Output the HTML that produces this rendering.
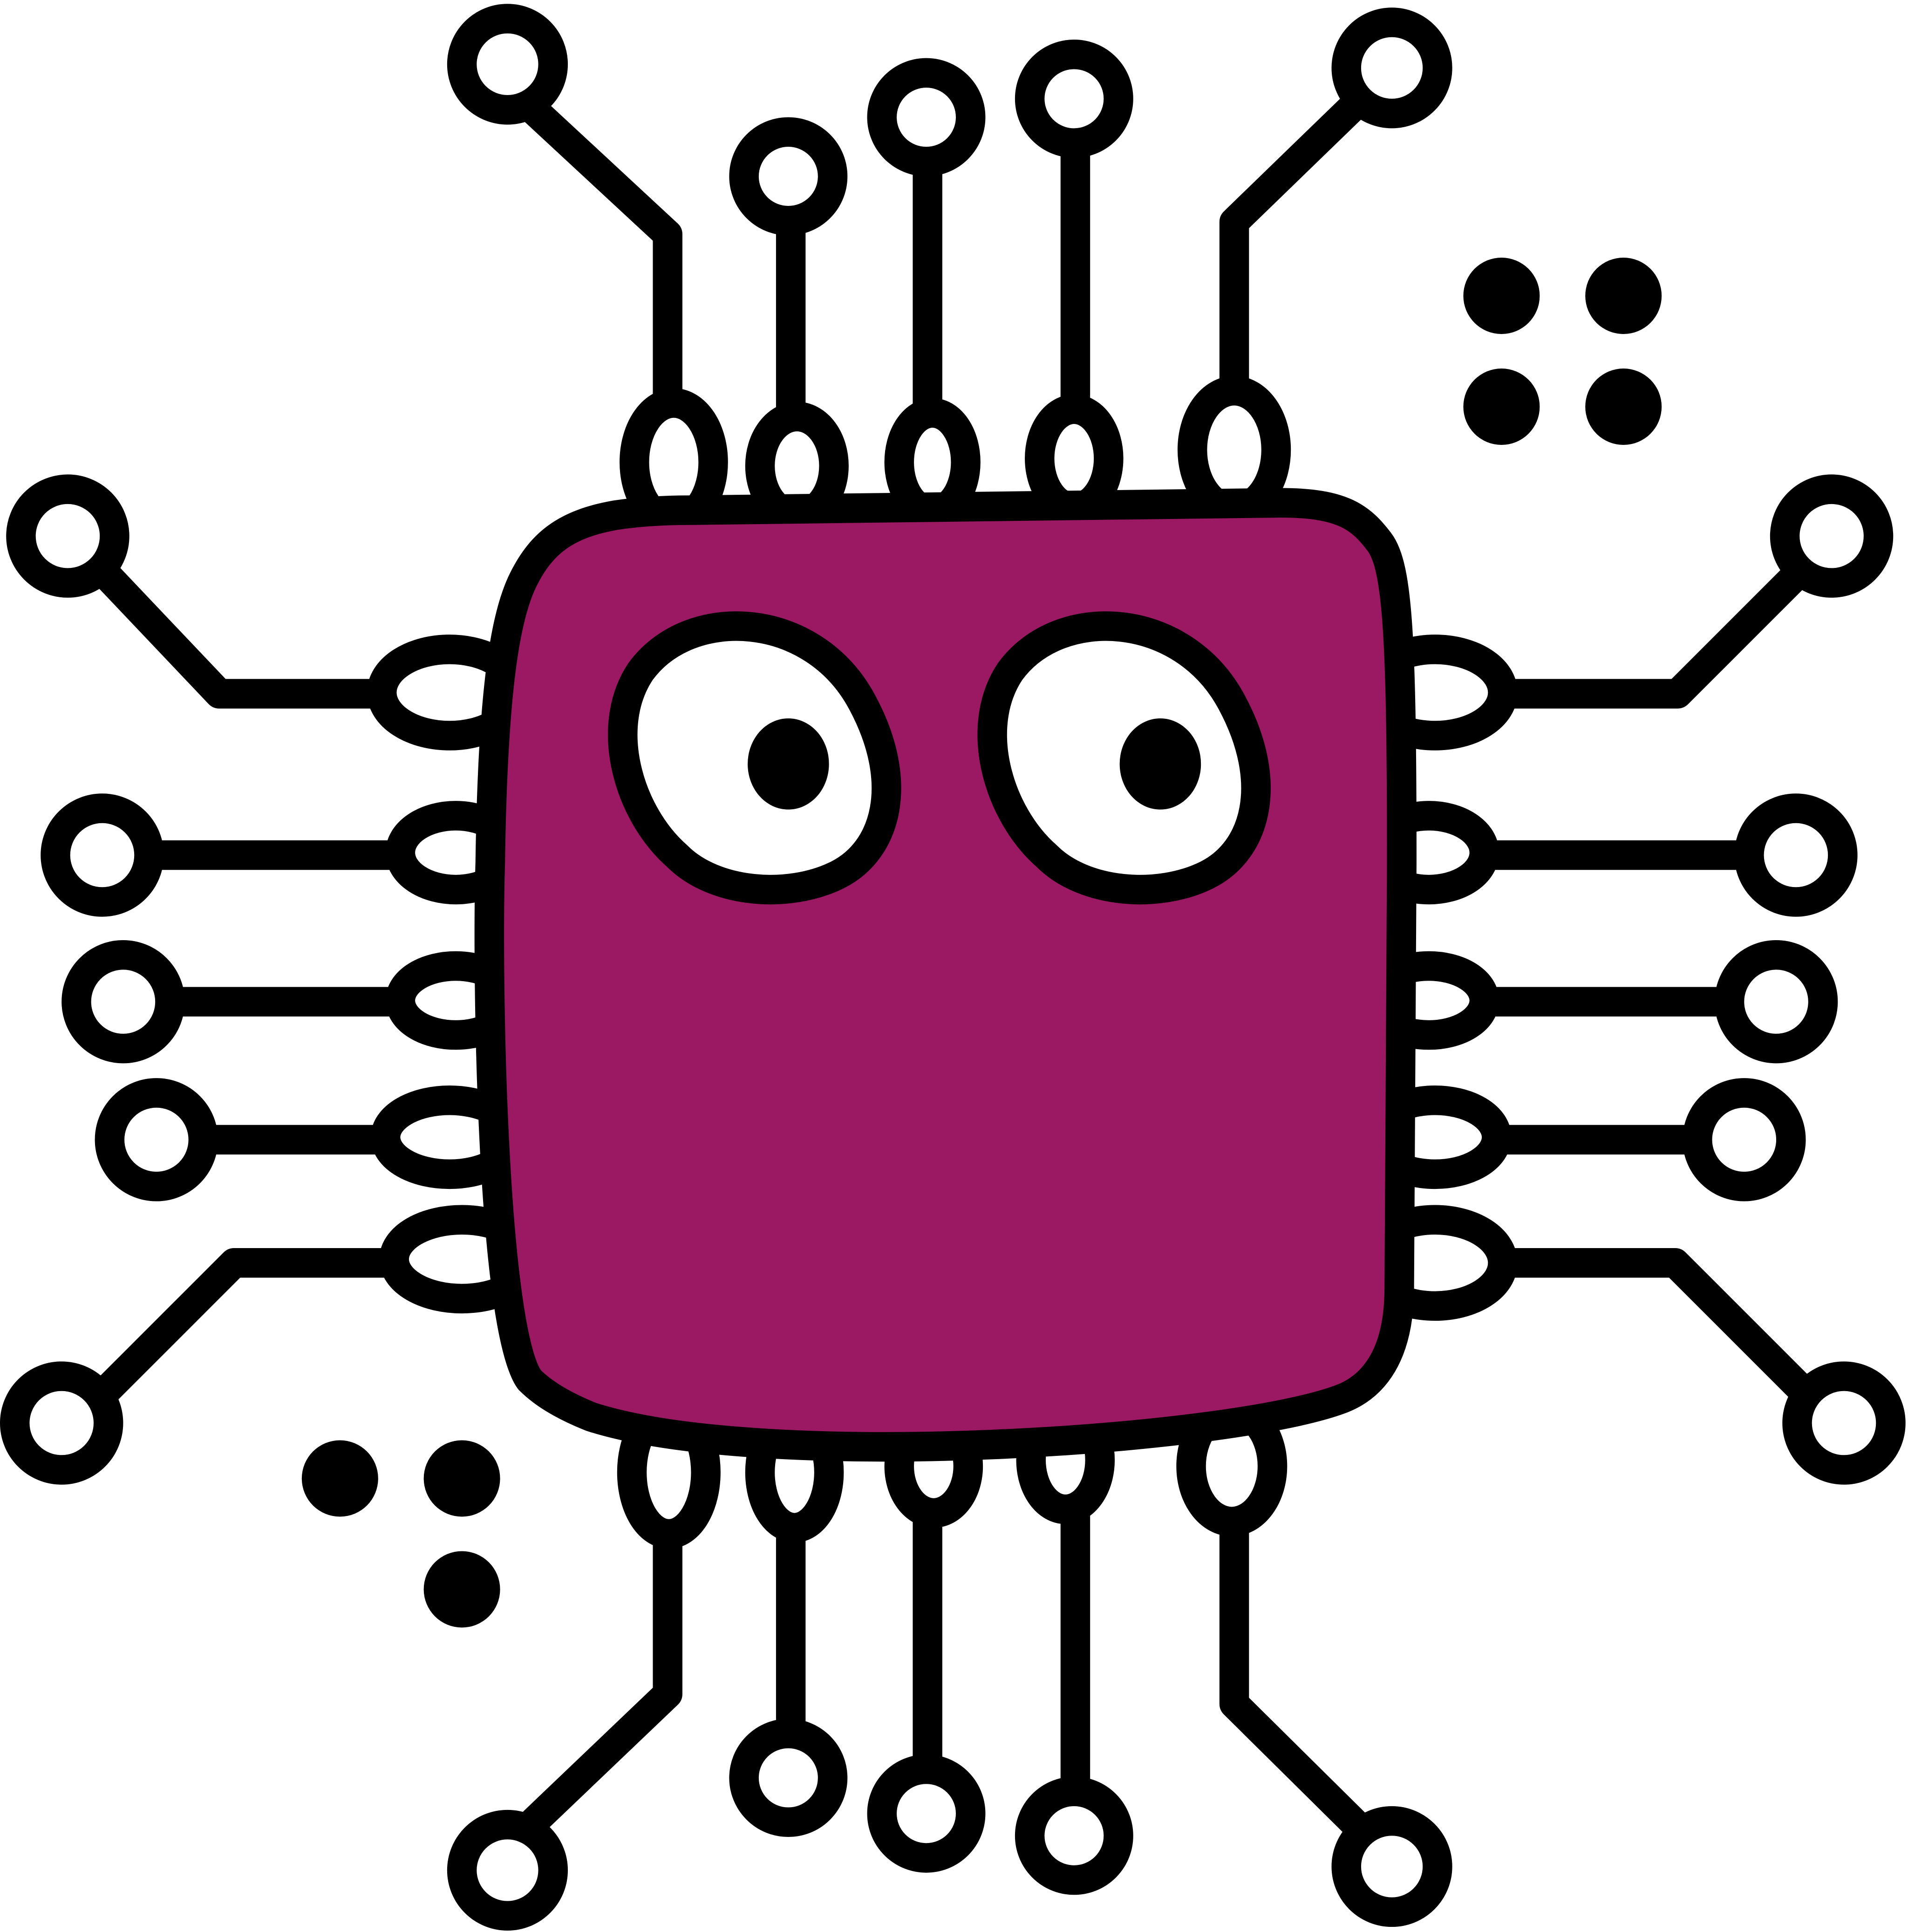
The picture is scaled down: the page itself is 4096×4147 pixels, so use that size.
<!DOCTYPE html>
<html><head><meta charset="utf-8"><style>
html,body{margin:0;padding:0;background:#fff;width:4096px;height:4147px;overflow:hidden}
svg{display:block}
</style></head><body>
<svg width="4096" height="4147" viewBox="0 0 1549 1568" xmlns="http://www.w3.org/2000/svg">
<g fill="none" stroke="#000" stroke-width="24" stroke-linejoin="round" stroke-linecap="round">
  <!-- top pins -->
  <g>
    <polyline points="432,88 542,190 542,320"/>
    <line x1="642" y1="180" x2="642" y2="330"/>
    <line x1="753" y1="135" x2="753" y2="330"/>
    <line x1="873" y1="118" x2="873" y2="325"/>
    <polyline points="1100,85 1002,180 1002,310"/>
    <circle cx="412" cy="52" r="37" fill="#fff"/>
    <circle cx="640" cy="143" r="36" fill="#fff"/>
    <circle cx="752" cy="95" r="36" fill="#fff"/>
    <circle cx="872" cy="80" r="36" fill="#fff"/>
    <circle cx="1130" cy="55" r="37" fill="#fff"/>
    <ellipse cx="547" cy="375" rx="32" ry="48" fill="#fff"/>
    <ellipse cx="647" cy="378" rx="30" ry="40" fill="#fff"/>
    <ellipse cx="757" cy="375" rx="27" ry="40" fill="#fff"/>
    <ellipse cx="872" cy="372" rx="28" ry="40" fill="#fff"/>
    <ellipse cx="1002" cy="365" rx="34" ry="48" fill="#fff"/>
  </g>
  <!-- bottom pins -->
  <g>
    <polyline points="432,1480 542,1375 542,1245"/>
    <line x1="642" y1="1245" x2="642" y2="1405"/>
    <line x1="753" y1="1235" x2="753" y2="1430"/>
    <line x1="873" y1="1230" x2="873" y2="1450"/>
    <polyline points="1100,1480 1002,1383 1002,1235"/>
    <circle cx="412" cy="1518" r="37" fill="#fff"/>
    <circle cx="640" cy="1443" r="36" fill="#fff"/>
    <circle cx="752" cy="1472" r="36" fill="#fff"/>
    <circle cx="872" cy="1490" r="36" fill="#fff"/>
    <circle cx="1130" cy="1515" r="37" fill="#fff"/>
    <ellipse cx="543" cy="1195" rx="30" ry="50" fill="#fff"/>
    <ellipse cx="645" cy="1195" rx="28" ry="45" fill="#fff"/>
    <ellipse cx="758" cy="1190" rx="28" ry="38" fill="#fff"/>
    <ellipse cx="865" cy="1185" rx="28" ry="40" fill="#fff"/>
    <ellipse cx="1000" cy="1190" rx="33" ry="45" fill="#fff"/>
  </g>
  <!-- left pins -->
  <g>
    <polyline points="85,465 178,563 310,563"/>
    <line x1="118" y1="694" x2="325" y2="694"/>
    <line x1="135" y1="813" x2="325" y2="813"/>
    <line x1="162" y1="925" x2="320" y2="925"/>
    <polyline points="85,1130 190,1025 325,1025"/>
    <circle cx="55" cy="435" r="38" fill="#fff"/>
    <circle cx="83" cy="694" r="38" fill="#fff"/>
    <circle cx="100" cy="813" r="38" fill="#fff"/>
    <circle cx="127" cy="925" r="38" fill="#fff"/>
    <circle cx="50" cy="1155" r="38" fill="#fff"/>
    <ellipse cx="365" cy="562" rx="55" ry="35" fill="#fff"/>
    <ellipse cx="370" cy="692" rx="45" ry="30" fill="#fff"/>
    <ellipse cx="370" cy="812" rx="45" ry="28" fill="#fff"/>
    <ellipse cx="365" cy="923" rx="52" ry="30" fill="#fff"/>
    <ellipse cx="375" cy="1022" rx="55" ry="32" fill="#fff"/>
  </g>
  <!-- right pins -->
  <g>
    <polyline points="1460,465 1362,563 1200,563"/>
    <line x1="1190" y1="694" x2="1420" y2="694"/>
    <line x1="1190" y1="813" x2="1403" y2="813"/>
    <line x1="1195" y1="925" x2="1378" y2="925"/>
    <polyline points="1465,1130 1360,1025 1215,1025"/>
    <circle cx="1487" cy="435" r="38" fill="#fff"/>
    <circle cx="1458" cy="694" r="38" fill="#fff"/>
    <circle cx="1442" cy="813" r="38" fill="#fff"/>
    <circle cx="1416" cy="925" r="38" fill="#fff"/>
    <circle cx="1497" cy="1155" r="38" fill="#fff"/>
    <ellipse cx="1165" cy="562" rx="55" ry="35" fill="#fff"/>
    <ellipse cx="1160" cy="692" rx="45" ry="30" fill="#fff"/>
    <ellipse cx="1160" cy="812" rx="45" ry="28" fill="#fff"/>
    <ellipse cx="1165" cy="923" rx="50" ry="30" fill="#fff"/>
    <ellipse cx="1165" cy="1025" rx="55" ry="35" fill="#fff"/>
  </g>
  <!-- body -->
  <path fill="#9b1863"
    d="M560,414 L1040,408 C1090,408 1105,420 1120,440 C1135,460 1138,520 1138,700 L1136,1045 C1136,1100 1115,1125 1090,1135 C1000,1170 620,1195 480,1150 C455,1140 440,1130 430,1120 C400,1080 395,800 398,700 C400,560 410,500 425,470 C440,440 460,425 500,418 C520,415 540,414 560,414 Z"/>
  <!-- eyes -->
  <g>
    <path fill="#fff" d="M520,545 C560,490 660,495 700,570 C735,635 720,690 680,710 C640,730 580,725 550,695 C510,660 490,590 520,545 Z"/>
  </g>
  <g>
    <path fill="#fff" d="M820,545 C860,490 960,495 1000,570 C1035,635 1020,690 980,710 C940,730 880,725 850,695 C810,660 790,590 820,545 Z"/>
  </g>
</g>
<ellipse cx="640" cy="620" rx="33" ry="37" fill="#000"/>
<ellipse cx="942" cy="620" rx="33" ry="37" fill="#000"/>
<g fill="#000">
  <circle cx="1219" cy="240" r="31"/><circle cx="1318" cy="240" r="31"/>
  <circle cx="1219" cy="330" r="31"/><circle cx="1318" cy="330" r="31"/>
</g>
<g fill="#000">
  <circle cx="276" cy="1200" r="31"/><circle cx="375" cy="1200" r="31"/>
  <circle cx="375" cy="1290" r="31"/>
</g>
</svg>
</body></html>
